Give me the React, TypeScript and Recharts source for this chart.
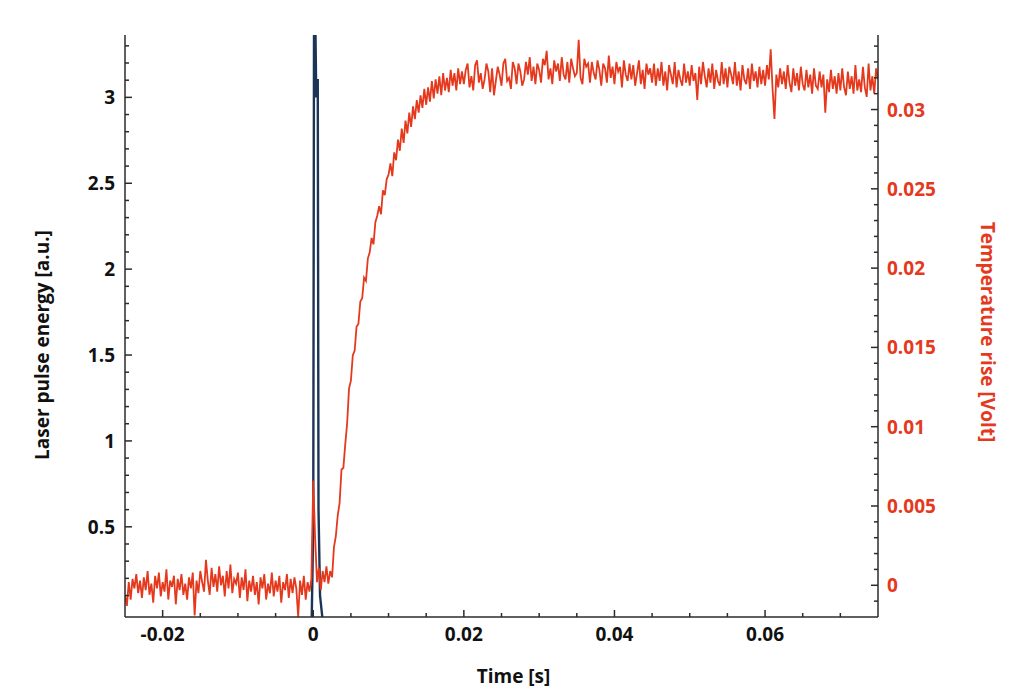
import React from 'react';
import { LineChart, Line, XAxis, YAxis } from 'recharts';

// ─── Look ─────────────────────────────────────────────────────────────────────

const RED = '#e5391d';
const NAVY = '#1c3557';
const AXIS = '#2b2b2b';
const FONT = '"Open Sans", Lato, sans-serif';

// ─── Data ─────────────────────────────────────────────────────────────────────

// temperature trace, sampled every 0.25 ms from -25 ms, values in mV
const T_START = -0.025;
const T_STEP = 0.00025;

// -25 ms .. -0.25 ms
const baselineMv = [
  -0.6, -1.3, 0.2, -0.9, 0.4, -0.2, 0.7, -0.5, 0.3, -0.8,
  0.5, -0.3, 0.9, -0.6, 0.1, -1.1, 0.6, -0.2, 0.8, -0.7,
  0.2, -0.4, 1.0, -0.9, 0.3, -0.1, 0.6, -1.2, 0.4, -0.3,
  0.7, -0.6, 0.1, -0.9, 0.5, -0.2, 0.8, -1.9, 0.3, -0.5,
  0.9, 0.2, -0.4, 1.6, 0.3, -0.6, 1.1, -0.1, 0.7, -0.4,
  1.2, 0.0, 0.6, -0.7, 0.9, -0.2, 1.3, -0.5, 0.4, 0.1,
  0.8, -0.8, 0.5, -0.3, 1.0, -1.0, 0.3, -0.4, 0.6, -0.6,
  0.2, -1.2, 0.5, -0.2, 0.7, -0.9, 0.1, -0.5, 0.8, -0.7,
  0.3, -0.4, 0.6, -1.1, 0.2, -0.3, 0.7, -0.8, 0.4, -0.5,
  0.5, -0.2, -2.0, 0.3, -0.6, 0.6, -0.9, 0.2, -0.4, 0.4,
];

// 0 ms .. 19.75 ms
const riseMv = [
  6.6, 3.0, 0.2, 1.1, -0.3, 0.9, 0.2, 1.2, 0.1, 0.9,
  0.5, 2.4, 3.1, 4.4, 5.2, 7.3, 7.4, 8.9, 10.2, 12.4,
  12.9, 14.5, 14.8, 16.3, 16.5, 17.9, 18.1, 19.4, 19.2, 20.6,
  21.0, 21.9, 21.5, 22.9, 23.3, 23.9, 23.4, 24.9, 24.6, 25.6,
  25.9, 26.6, 25.8, 27.3, 26.8, 28.1, 27.4, 28.8, 27.9, 29.3,
  28.5, 29.8, 28.9, 30.2, 29.4, 30.6, 29.8, 30.9, 30.1, 31.3,
  30.3, 31.4, 30.5, 31.8, 30.7, 31.9, 31.0, 32.1, 30.9, 32.3,
  31.2, 32.0, 31.1, 32.5, 31.5, 32.3, 31.2, 32.6, 31.6, 32.4,
];

// 20 ms .. 75 ms
const plateauMv = [
  31.6, 32.5, 32.9, 31.4, 32.1, 31.2, 32.8, 33.1, 31.7, 32.3,
  31.3, 31.9, 32.9, 32.4, 31.1, 32.6, 30.9, 31.8, 32.7, 32.2,
  31.5, 32.9, 33.2, 31.8, 32.0, 31.3, 33.0, 32.6, 31.6, 32.9,
  32.4, 31.5, 31.9, 33.0, 32.2, 33.3, 31.8, 32.7, 31.6, 32.9,
  32.5, 31.7, 33.2, 32.8, 33.7, 31.9, 32.6, 31.6, 33.1, 32.4,
  32.9, 31.8, 33.3, 32.2, 31.9, 33.0, 31.7, 33.2, 32.6, 32.1,
  32.3, 34.4, 32.0, 31.6, 33.2, 32.7, 32.9, 31.7, 33.0, 32.3,
  31.9, 33.1, 32.5, 31.5, 32.9, 32.6, 31.7, 33.4, 32.0, 32.7,
  31.6, 33.0, 32.4, 32.7, 31.4, 33.1, 32.2, 31.8, 32.9, 31.9,
  32.8, 31.5, 32.3, 33.1, 31.6, 32.5, 31.3, 32.9, 32.2, 32.6,
  31.7, 32.9, 31.5, 32.6, 31.8, 33.0, 31.5, 32.4, 31.2, 32.8,
  32.2, 31.6, 33.0, 31.4, 32.5, 31.9, 31.5, 32.9, 31.7, 32.4,
  31.5, 32.8, 31.8, 32.3, 30.6, 32.7, 31.6, 33.0, 32.1, 31.4,
  32.6, 31.7, 32.9, 31.3, 32.5, 31.8, 31.5, 33.0, 31.6, 32.6,
  31.4, 32.7, 32.2, 31.6, 33.0, 31.5, 32.4, 31.2, 32.8, 31.9,
  31.6, 32.6, 31.3, 32.9, 31.8, 32.4, 31.4, 32.7, 31.6, 32.5,
  31.5, 32.8, 31.9, 33.8, 31.3, 29.4, 32.2, 31.4, 32.6, 31.6,
  32.4, 31.3, 32.8, 31.7, 31.1, 32.6, 31.5, 32.3, 31.2, 32.7,
  31.6, 31.2, 32.5, 31.4, 32.2, 31.0, 32.6, 31.5, 31.3, 32.4,
  31.4, 32.2, 29.8, 31.9, 31.1, 32.5, 31.3, 32.1, 31.0, 32.3,
  31.2, 32.6, 31.4, 30.9, 32.4, 31.3, 32.1, 31.0, 32.8, 31.2,
  31.9, 31.1, 32.7, 31.4, 30.8, 32.9, 31.2, 32.1, 31.0, 32.6,
  31.9,
];

// laser pulse
const pulseTime = [-0.0002, 0.0, 0.0001, 0.0003, 0.0004, 0.0005, 0.0006, 0.0007, 0.0009, 0.0012];
const pulseEnergy = [-0.025, 0.5, 3.36, 3.36, 3.0, 3.1, 3.1, 0.6, 0.1, -0.025];

// ─── Axes ─────────────────────────────────────────────────────────────────────

const xTicks = [
  -0.02, -0.015, -0.01, -0.005, 0, 0.005, 0.01, 0.015, 0.02, 0.025,
  0.03, 0.035, 0.04, 0.045, 0.05, 0.055, 0.06, 0.065, 0.07,
];
const leftTicks = [
  0.1, 0.2, 0.3, 0.4, 0.5, 0.6, 0.7, 0.8, 0.9, 1, 1.1, 1.2, 1.3, 1.4, 1.5, 1.6,
  1.7, 1.8, 1.9, 2, 2.1, 2.2, 2.3, 2.4, 2.5, 2.6, 2.7, 2.8, 2.9, 3, 3.1, 3.2, 3.3,
];
const rightTicks = [
  -0.001, 0, 0.001, 0.002, 0.003, 0.004, 0.005, 0.006, 0.007, 0.008, 0.009,
  0.01, 0.011, 0.012, 0.013, 0.014, 0.015, 0.016, 0.017, 0.018, 0.019, 0.02,
  0.021, 0.022, 0.023, 0.024, 0.025, 0.026, 0.027, 0.028, 0.029, 0.03, 0.031,
  0.032, 0.033, 0.034,
];

const X_DOMAIN = [-0.025, 0.075];
const LEFT_DOMAIN = [-0.025, 3.363];
const RIGHT_DOMAIN = [-0.002, 0.0347];

const tempData = [...baselineMv, ...riseMv, ...plateauMv].map((mv, i) => ({
  t: T_START + i * T_STEP,
  temp: mv / 1000,
}));
const pulseData = pulseTime.map((t, i) => ({ t, energy: pulseEnergy[i] }));

// ─── Helpers ──────────────────────────────────────────────────────────────────

const TICK_MARGIN = 10;
const MAJOR_LEN = 7;
const MINOR_LEN = 4;

function isMultiple(v: number, step: number): boolean {
  const r = v / step;
  return Math.abs(r - Math.round(r)) < 1e-6;
}

const labelStyle = { fontFamily: FONT, fontWeight: 700, fontSize: 19 };

function XTick({ x, y, payload }: any) {
  const v = payload.value as number;
  const major = isMultiple(v, 0.02);
  const axisY = y - TICK_MARGIN;
  return (
    <g>
      <line x1={x} x2={x} y1={axisY} y2={axisY - (major ? MAJOR_LEN : MINOR_LEN)} stroke={AXIS} strokeWidth={1.5} />
      {major && (
        <text x={x} y={axisY + 17} textAnchor="middle" dominantBaseline="central" fill="#111" style={labelStyle}>
          {String(v)}
        </text>
      )}
    </g>
  );
}

function LeftTick({ x, y, payload }: any) {
  const v = payload.value as number;
  const major = isMultiple(v, 0.5);
  const axisX = x + TICK_MARGIN;
  return (
    <g>
      <line x1={axisX} x2={axisX + (major ? MAJOR_LEN : MINOR_LEN)} y1={y} y2={y} stroke={AXIS} strokeWidth={1.5} />
      {major && (
        <text x={axisX - 10} y={y} textAnchor="end" dominantBaseline="central" fill="#111" style={labelStyle}>
          {String(v)}
        </text>
      )}
    </g>
  );
}

function RightTick({ x, y, payload }: any) {
  const v = payload.value as number;
  const major = isMultiple(v, 0.005);
  const axisX = x - TICK_MARGIN;
  return (
    <g>
      <line x1={axisX} x2={axisX - (major ? MAJOR_LEN : MINOR_LEN)} y1={y} y2={y} stroke={AXIS} strokeWidth={1.5} />
      {major && (
        <text x={axisX + 9} y={y} textAnchor="start" dominantBaseline="central" fill={RED} style={labelStyle}>
          {String(v)}
        </text>
      )}
    </g>
  );
}

function LeftTitle({ viewBox }: any) {
  const cx = viewBox.x + 4;
  const cy = viewBox.y + viewBox.height / 2 + 19;
  return (
    <text x={cx} y={cy} transform={`rotate(-90, ${cx}, ${cy})`} textAnchor="middle" dominantBaseline="central" fill="#111" style={labelStyle}>
      Laser pulse energy [a.u.]
    </text>
  );
}

function RightTitle({ viewBox }: any) {
  const cx = viewBox.x + 110;
  const cy = viewBox.y + viewBox.height / 2 + 6;
  return (
    <text x={cx} y={cy} transform={`rotate(90, ${cx}, ${cy})`} textAnchor="middle" dominantBaseline="central" fill={RED} style={labelStyle}>
      Temperature rise [Volt]
    </text>
  );
}

function BottomTitle({ viewBox }: any) {
  const cx = viewBox.x + viewBox.width / 2 + 12;
  const cy = viewBox.y + 59;
  return (
    <text x={cx} y={cy} textAnchor="middle" dominantBaseline="central" fill="#111" style={labelStyle}>
      Time [s]
    </text>
  );
}

// ─── Component ────────────────────────────────────────────────────────────────

export default function App() {
  return (
    <div style={{ width: 1010, height: 682, background: '#fff' }}>
      <LineChart width={1010} height={682} margin={{ top: 27, right: 40, left: 30, bottom: 23 }}>
        <XAxis
          xAxisId="t"
          dataKey="t"
          type="number"
          domain={X_DOMAIN}
          ticks={xTicks}
          interval={0}
          allowDataOverflow
          height={50}
          tickSize={0}
          tickMargin={TICK_MARGIN}
          tickLine={false}
          axisLine={{ stroke: AXIS, strokeWidth: 1.5 }}
          tick={<XTick />}
          label={(p: any) => <BottomTitle {...p} />}
        />
        <YAxis
          yAxisId="left"
          orientation="left"
          type="number"
          domain={LEFT_DOMAIN}
          ticks={leftTicks}
          interval={0}
          allowDataOverflow
          width={87}
          tickSize={0}
          tickMargin={TICK_MARGIN}
          tickLine={false}
          axisLine={{ stroke: AXIS, strokeWidth: 1.5 }}
          tick={<LeftTick />}
          label={(p: any) => <LeftTitle {...p} />}
        />
        <YAxis
          yAxisId="right"
          orientation="right"
          type="number"
          domain={RIGHT_DOMAIN}
          ticks={rightTicks}
          interval={0}
          allowDataOverflow
          width={100}
          tickSize={0}
          tickMargin={TICK_MARGIN}
          tickLine={false}
          axisLine={{ stroke: AXIS, strokeWidth: 1.5 }}
          tick={<RightTick />}
          label={(p: any) => <RightTitle {...p} />}
        />
        <Line
          xAxisId="t"
          yAxisId="left"
          data={pulseData}
          dataKey="energy"
          type="linear"
          stroke={NAVY}
          strokeWidth={2.4}
          dot={false}
          isAnimationActive={false}
        />
        <Line
          xAxisId="t"
          yAxisId="right"
          data={tempData}
          dataKey="temp"
          type="linear"
          stroke={RED}
          strokeWidth={1.8}
          dot={false}
          isAnimationActive={false}
        />
      </LineChart>
    </div>
  );
}
